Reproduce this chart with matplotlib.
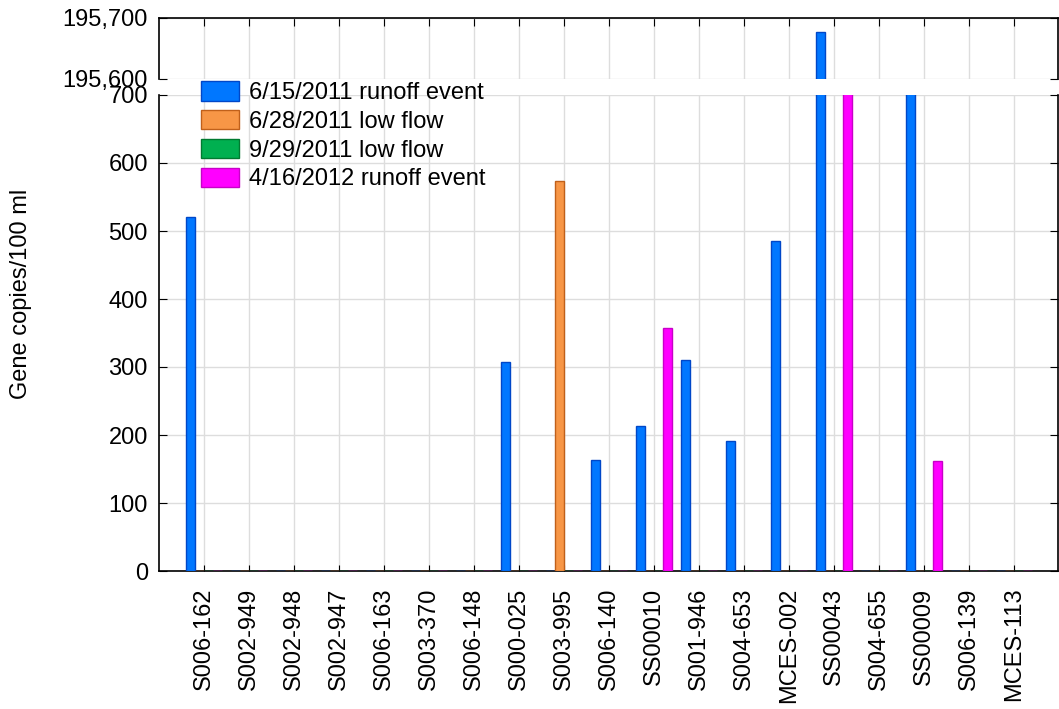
import matplotlib
matplotlib.use('Agg')
import matplotlib.pyplot as plt
import numpy as np
from matplotlib.ticker import FuncFormatter, MultipleLocator

plt.rcParams['font.family'] = ['Liberation Sans', 'DejaVu Sans']

# Данные
sites = ['S006-162', 'S002-949', 'S002-948', 'S002-947', 'S006-163', 'S003-370',
         'S006-148', 'S000-025', 'S003-995', 'S006-140', 'SS00010', 'S001-946',
         'S004-653', 'MCES-002', 'SS00043', 'S004-655', 'SS00009', 'S006-139',
         'MCES-113']
runoff_2011 = [520, 0, 0, 0, 0, 0, 0, 307, 0, 163, 213, 311, 191, 485, 195677, 0, 1000, 0, 0]
lowflow_jun = [0, 0, 0, 0, 0, 0, 0, 0, 574, 0, 0, 0, 0, 0, 0, 0, 0, 0, 0]
lowflow_sep = [0, 0, 0, 0, 0, 0, 0, 0, 0, 0, 0, 0, 0, 0, 0, 0, 0, 0, 0]
runoff_2012 = [0, 0, 0, 0, 0, 0, 0, 0, 0, 0, 357, 0, 0, 0, 1000, 0, 162, 0, 0]

series = [
    ('6/15/2011 runoff event', runoff_2011, '#0077FF', '#0047C8'),
    ('6/28/2011 low flow', lowflow_jun, '#F79646', '#C0601A'),
    ('9/29/2011 low flow', lowflow_sep, '#00B050', '#007A30'),
    ('4/16/2012 runoff event', runoff_2012, '#FF00FF', '#C800C8'),
]

W, H = 1059, 709
fig = plt.figure(figsize=(W / 100, H / 100), dpi=100)

left, right = 159, 1058
ax_lo = fig.add_axes([left / W, 1 - 571 / H, (right - left) / W, (571 - 95) / H])
ax_hi = fig.add_axes([left / W, 1 - 79 / H, (right - left) / W, (79 - 17.5) / H], sharex=ax_lo)

x = np.arange(len(sites))
width = 0.2
offsets = [-1.5, -0.5, 0.5, 1.5]

# Рисуем столбцы на обеих частях разорванной оси
for ax in (ax_lo, ax_hi):
    for (label, vals, fc, ec), off in zip(series, offsets):
        ax.bar(x + off * width, vals, width, color=fc, edgecolor=ec, linewidth=1,
               label=label, zorder=3)
    ax.grid(True, color='#DDDDDD', linewidth=1, zorder=0)
    ax.set_axisbelow(True)

ax_lo.set_xlim(-1, 18.98)
ax_lo.set_ylim(0, 700)
ax_lo.yaxis.set_major_locator(MultipleLocator(100))
ax_hi.set_ylim(195600, 195700)
ax_hi.set_yticks([195600, 195700])
ax_hi.yaxis.set_major_formatter(FuncFormatter(lambda v, p: f'{v:,.0f}'))

ax_lo.set_xticks(x)
ax_lo.set_xticklabels(sites, rotation=90)

ax_lo.spines['top'].set_visible(False)
ax_hi.spines['bottom'].set_visible(False)
for ax in (ax_lo, ax_hi):
    for s in ax.spines.values():
        s.set_linewidth(1.2)

ax_lo.tick_params(axis='x', direction='in', length=4, labelsize=17, pad=12, top=False)
ax_lo.tick_params(axis='y', direction='in', length=6, labelsize=17, pad=8, right=True)
ax_hi.tick_params(axis='x', direction='in', length=6, bottom=False, labelbottom=False, top=True)
ax_hi.tick_params(axis='y', direction='in', length=6, labelsize=17, pad=8, right=True)

fig.text(21 / W, 1 - 294 / H, 'Gene copies/100 ml', rotation=90, ha='center',
         va='center', fontsize=17)

handles, labels = ax_lo.get_legend_handles_labels()
fig.legend(handles, labels, loc='upper left', bbox_to_anchor=(201 / W, 1 - 81 / H),
           frameon=False, fontsize=17, borderpad=0, borderaxespad=0,
           handlelength=1.6, handleheight=0.9, handletextpad=0.45, labelspacing=0.25)

fig.savefig('out.png', dpi=100)
